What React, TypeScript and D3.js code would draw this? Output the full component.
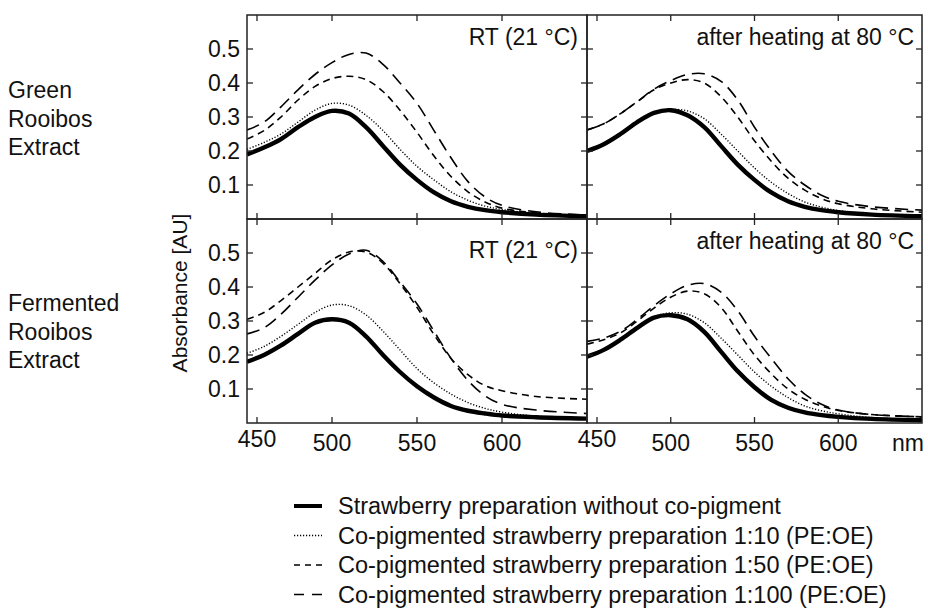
import React from "react";
import * as d3 from "d3";

// wavelengths (nm)
const wavelengths = [450, 460, 470, 480, 490, 500, 510, 520, 530, 540, 550, 560, 570, 580, 590, 600, 620, 650];

// Green Rooibos Extract, RT (21 °C)
const greenRT_none = [0.19, 0.21, 0.235, 0.27, 0.3, 0.318, 0.31, 0.27, 0.215, 0.16, 0.115, 0.078, 0.052, 0.036, 0.026, 0.02, 0.013, 0.008];
const greenRT_10 = [0.205, 0.225, 0.25, 0.285, 0.32, 0.34, 0.335, 0.305, 0.26, 0.205, 0.155, 0.115, 0.08, 0.055, 0.038, 0.028, 0.016, 0.01];
const greenRT_50 = [0.235, 0.26, 0.3, 0.35, 0.39, 0.413, 0.42, 0.41, 0.375, 0.32, 0.255, 0.185, 0.125, 0.08, 0.05, 0.032, 0.018, 0.01];
const greenRT_100 = [0.262, 0.285, 0.33, 0.38, 0.425, 0.46, 0.484, 0.488, 0.455, 0.4, 0.34, 0.26, 0.18, 0.11, 0.065, 0.04, 0.021, 0.012];

// Green Rooibos Extract, after heating at 80 °C
const greenH_none = [0.2, 0.22, 0.25, 0.285, 0.312, 0.32, 0.305, 0.27, 0.215, 0.16, 0.115, 0.078, 0.052, 0.036, 0.026, 0.02, 0.013, 0.008];
const greenH_10 = [0.2, 0.222, 0.252, 0.287, 0.314, 0.322, 0.318, 0.295, 0.25, 0.2, 0.15, 0.108, 0.075, 0.05, 0.035, 0.025, 0.015, 0.009];
const greenH_50 = [0.262, 0.28, 0.31, 0.345, 0.38, 0.4, 0.41, 0.4, 0.36, 0.3, 0.23, 0.17, 0.12, 0.085, 0.06, 0.045, 0.03, 0.02];
const greenH_100 = [0.262, 0.28, 0.31, 0.345, 0.382, 0.407, 0.425, 0.427, 0.405, 0.35, 0.27, 0.2, 0.14, 0.1, 0.07, 0.052, 0.036, 0.026];

// Fermented Rooibos Extract, RT (21 °C)
const fermRT_none = [0.18, 0.2, 0.228, 0.262, 0.295, 0.305, 0.295, 0.255, 0.2, 0.15, 0.108, 0.075, 0.05, 0.036, 0.028, 0.022, 0.017, 0.013];
const fermRT_10 = [0.205, 0.225, 0.255, 0.29, 0.325, 0.347, 0.345, 0.318, 0.27, 0.215, 0.16, 0.118, 0.085, 0.06, 0.043, 0.032, 0.02, 0.015];
const fermRT_50 = [0.305, 0.325, 0.36, 0.4, 0.44, 0.48, 0.503, 0.503, 0.47, 0.41, 0.34, 0.26, 0.19, 0.142, 0.11, 0.095, 0.078, 0.07];
const fermRT_100 = [0.262, 0.28, 0.32, 0.37, 0.42, 0.465, 0.497, 0.508, 0.475, 0.415, 0.35, 0.27, 0.19, 0.125, 0.08, 0.055, 0.038, 0.028];

// Fermented Rooibos Extract, after heating at 80 °C
const fermH_none = [0.195, 0.215, 0.245, 0.28, 0.31, 0.317, 0.305, 0.268, 0.21, 0.152, 0.105, 0.068, 0.045, 0.031, 0.023, 0.018, 0.012, 0.008];
const fermH_10 = [0.197, 0.218, 0.247, 0.282, 0.312, 0.324, 0.32, 0.295, 0.25, 0.2, 0.15, 0.108, 0.075, 0.05, 0.036, 0.027, 0.016, 0.01];
const fermH_50 = [0.232, 0.245, 0.265, 0.3, 0.338, 0.37, 0.388, 0.38, 0.34, 0.27, 0.2, 0.145, 0.1, 0.07, 0.05, 0.037, 0.025, 0.018];
const fermH_100 = [0.24, 0.25, 0.27, 0.305, 0.345, 0.38, 0.405, 0.41, 0.385, 0.33, 0.255, 0.19, 0.13, 0.085, 0.055, 0.038, 0.025, 0.018];

const xTicks = [450, 500, 550, 600];
const yTicks = [0.1, 0.2, 0.3, 0.4, 0.5];
const rowLabels = [["Green", "Rooibos", "Extract"], ["Fermented", "Rooibos", "Extract"]];
const panelTitles = ["RT (21 °C)", "after heating at 80 °C"];
const legendLabels = [
  "Strawberry preparation without co-pigment",
  "Co-pigmented strawberry preparation 1:10 (PE:OE)",
  "Co-pigmented strawberry preparation 1:50 (PE:OE)",
  "Co-pigmented strawberry preparation 1:100 (PE:OE)",
];

const styles = [
  { width: 4.4, dash: "none" },
  { width: 1.4, dash: "1.2,1.8" },
  { width: 1.6, dash: "7,5" },
  { width: 1.6, dash: "13,7" },
];
const legendDash = ["none", "1.2,1.8", "6,5", "10,8"];

const panels = [
  { row: 0, col: 0, series: [greenRT_none, greenRT_10, greenRT_50, greenRT_100] },
  { row: 0, col: 1, series: [greenH_none, greenH_10, greenH_50, greenH_100] },
  { row: 1, col: 0, series: [fermRT_none, fermRT_10, fermRT_50, fermRT_100] },
  { row: 1, col: 1, series: [fermH_none, fermH_10, fermH_50, fermH_100] },
];

const FONT = "'Liberation Sans', Arial, Helvetica, sans-serif";
const colX = [[247, 587], [587, 922]];
const rowY = [[15, 219], [219, 423]];
const titleBaseline = [[45, 45], [258, 249]];
const FS = 23;

export default function App() {
  const stroke = "#222";
  return (
    <svg width={928} height={615} style={{ position: "absolute", left: 0, top: 0, background: "#fff" }} fontFamily={FONT}>
      <defs>
        {panels.map((p, i) => (
          <clipPath id={`clip${i}`} key={i}>
            <rect x={colX[p.col][0]} y={rowY[p.row][0]} width={colX[p.col][1] - colX[p.col][0]} height={rowY[p.row][1] - rowY[p.row][0]} />
          </clipPath>
        ))}
      </defs>
      {panels.map((p, i) => {
        const x = d3.scaleLinear().domain([450, 650]).range(colX[p.col]);
        const y = d3.scaleLinear().domain([0, 0.6]).range([rowY[p.row][1], rowY[p.row][0]]);
        const line = d3
          .line<number>()
          .x((_, k) => x(wavelengths[k]))
          .y((v) => y(v))
          .curve(d3.curveCatmullRom.alpha(0.5));
        const [x0, x1] = colX[p.col];
        const [y0, y1] = rowY[p.row];
        const tickPos = (t: number) => x(t) + (t === 450 ? 10 : 0);
        return (
          <g key={i}>
            <g clipPath={`url(#clip${i})`}>
              {p.series.map((s, k) => (
                <path key={k} d={line(s) || ""} fill="none" stroke="#000" strokeWidth={styles[k].width} strokeDasharray={styles[k].dash} />
              ))}
            </g>
            <rect x={x0} y={y0} width={x1 - x0} height={y1 - y0} fill="none" stroke={stroke} strokeWidth={1.5} />
            {yTicks.map((t) => (
              <g key={t}>
                <line x1={x0} x2={x0 + 6} y1={y(t)} y2={y(t)} stroke={stroke} strokeWidth={1.3} />
                <line x1={x1} x2={x1 - 6} y1={y(t)} y2={y(t)} stroke={stroke} strokeWidth={1.3} />
              </g>
            ))}
            {xTicks.map((t) => (
              <g key={t}>
                <line x1={tickPos(t)} x2={tickPos(t)} y1={y1} y2={y1 - 6} stroke={stroke} strokeWidth={1.3} />
                <line x1={tickPos(t)} x2={tickPos(t)} y1={y0} y2={y0 + 6} stroke={stroke} strokeWidth={1.3} />
              </g>
            ))}
            {p.col === 0 &&
              yTicks.map((t) => (
                <text key={t} x={240} y={y(t)} textAnchor="end" dominantBaseline="central" fontSize={FS} fill="#111">
                  {t.toFixed(1)}
                </text>
              ))}
            {p.row === 1 &&
              xTicks.map((t) => (
                <text key={t} x={tickPos(t)} y={t === 450 ? 439 : 443} textAnchor="middle" dominantBaseline="central" fontSize={FS} fill="#111">
                  {t}
                </text>
              ))}
            <text x={p.col === 0 ? 578 : 914} y={titleBaseline[p.row][p.col]} textAnchor="end" fontSize={FS} fill="#111">
              {panelTitles[p.col]}
            </text>
          </g>
        );
      })}
      <text x={908} y={443} textAnchor="middle" dominantBaseline="central" fontSize={FS} fill="#111">nm</text>
      <text transform="translate(179,293) rotate(-90)" textAnchor="middle" dominantBaseline="central" fontSize={21} fill="#111">
        Absorbance [AU]
      </text>
      {rowLabels.map((lines, r) => (
        <text key={r} x={8} fontSize={FS} fill="#111">
          {lines.map((l, j) => (
            <tspan key={j} x={8} y={(r === 0 ? 90 : 303) + j * 28.5} dominantBaseline="central">
              {l}
            </tspan>
          ))}
        </text>
      ))}
      {legendLabels.map((l, k) => {
        const ly = 506 + k * 29.5;
        return (
          <g key={k}>
            <line x1={294} x2={322} y1={ly} y2={ly} stroke="#000" strokeWidth={k === 0 ? 4 : 1.6} strokeDasharray={legendDash[k]} />
            <text x={338} y={ly} dominantBaseline="central" fontSize={23.5} fill="#111">
              {l}
            </text>
          </g>
        );
      })}
    </svg>
  );
}
